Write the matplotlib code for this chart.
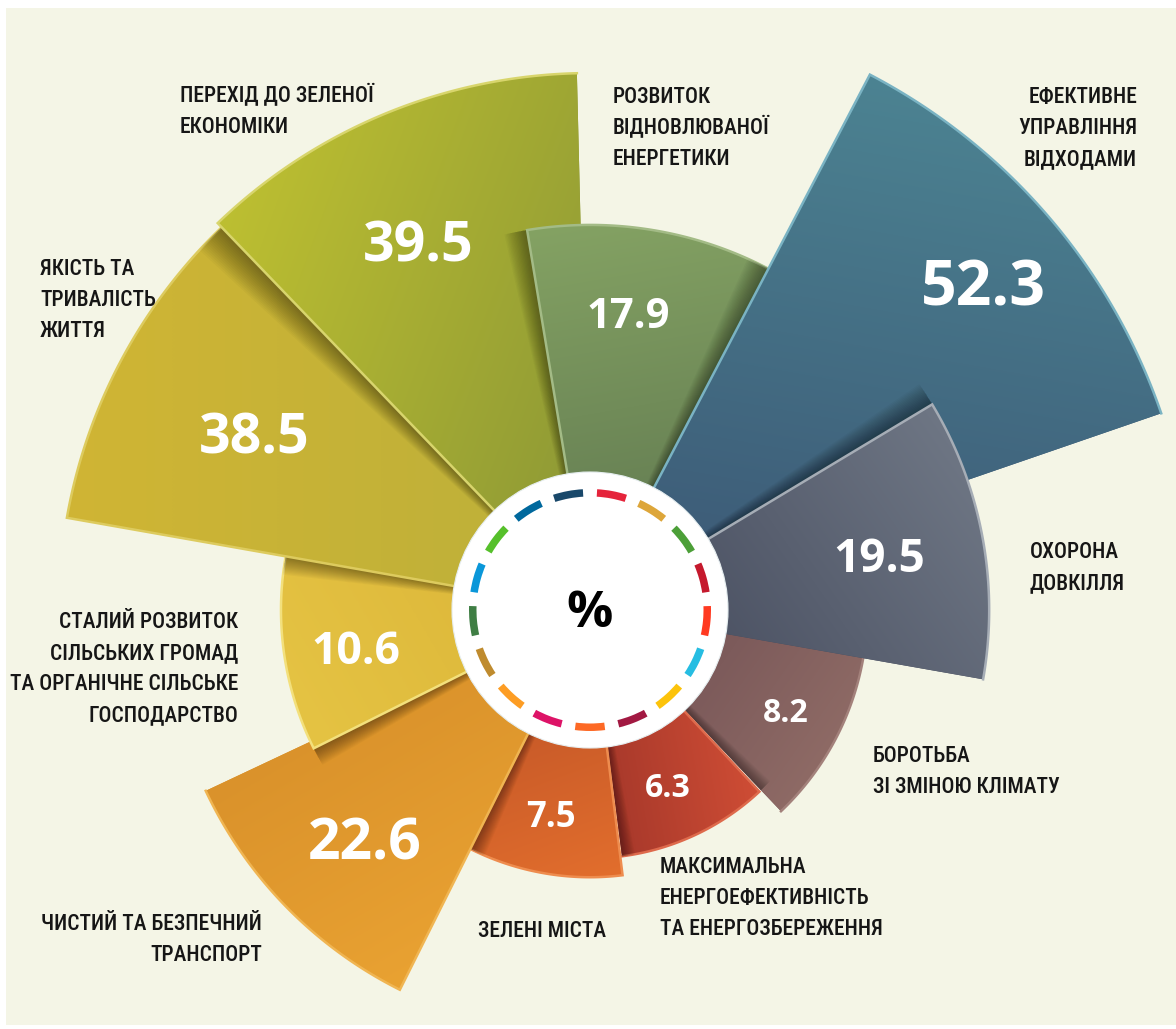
import numpy as np
import matplotlib
matplotlib.use("Agg")
import matplotlib.pyplot as plt
from matplotlib import font_manager as fm
from matplotlib.patches import Circle, Wedge, Rectangle
from matplotlib.image import AxesImage
from matplotlib.path import Path
from matplotlib.colors import to_rgb

# ---------------- data ----------------
categories = [
    "БОРОТЬБА\nЗІ ЗМІНОЮ КЛІМАТУ",
    "МАКСИМАЛЬНА\nЕНЕРГОЕФЕКТИВНІСТЬ\nТА ЕНЕРГОЗБЕРЕЖЕННЯ",
    "ЗЕЛЕНІ МІСТА",
    "ЧИСТИЙ ТА БЕЗПЕЧНИЙ\nТРАНСПОРТ",
    "СТАЛИЙ РОЗВИТОК\nСІЛЬСЬКИХ ГРОМАД\nТА ОРГАНІЧНЕ СІЛЬСЬКЕ\nГОСПОДАРСТВО",
    "ЯКІСТЬ ТА\nТРИВАЛІСТЬ\nЖИТТЯ",
    "ПЕРЕХІД ДО ЗЕЛЕНОЇ\nЕКОНОМІКИ",
    "РОЗВИТОК\nВІДНОВЛЮВАНОЇ\nЕНЕРГЕТИКИ",
    "ЕФЕКТИВНЕ\nУПРАВЛІННЯ\nВІДХОДАМИ",
    "ОХОРОНА\nДОВКІЛЛЯ",
]
values = [8.2, 6.3, 7.5, 22.6, 10.6, 38.5, 39.5, 17.9, 52.3, 19.5]
center_symbol = "%"

# ---------------- layout ----------------
# angular extent of each sector in degrees (clockwise edge -> counter-clockwise edge);
# sectors are listed in stacking order, each one overlapping the previous one
sector_from = [313.5, 277.4, 243.0, 205.2, 169.5, 133.5, 91.4, 62.0, 19.0, -10.0]
sector_to = [351.0, 313.0, 277.0, 243.4, 206.6, 170.0, 133.9, 99.4, 62.4, 31.0]

# value labels: (x, baseline) in pixels from the top-left corner, font size in pt
value_pos = [(786, 722), (668, 797), (551, 827), (365, 859), (356, 664),
             (254, 453), (418, 262), (628, 328), (983, 305), (879, 572)]
value_size = [23, 23, 25, 41, 32, 40, 40, 30, 45, 33]

# category labels: (x, first baseline) in pixels, alignment
label_pos = [(873, 762, "left"), (660, 873, "left"), (478, 937, "left"),
             (262, 930, "right"), (238, 628, "right"), (40, 275, "left"),
             (180, 102, "left"), (613, 103, "left"), (1137, 103, "right"),
             (1030, 558, "left")]
label_step = 31
label_size = 15.5

# ---------------- style ----------------
shade_dark = ["#6C4C51", "#A8392B", "#BB5026", "#DA922B", "#DBB538",
              "#BCB03A", "#8A9636", "#5E764F", "#3B5674", "#444A5C"]
shade_light = ["#8E6A65", "#CF4D35", "#E26E2D", "#E9A232", "#E5C343",
               "#D0B534", "#BDBF31", "#84A263", "#4C8392", "#6E7684"]
shade_dir = [-35, 10, -70, -60, -150, 180, 160, 100, 80, 35]
edge_colors = ["#A3817B", "#DE6A4C", "#EE8C4E", "#F0B552", "#F3E07C",
               "#DDCB5E", "#D8D56C", "#A3BB86", "#7AB3C3", "#A6ADB6"]
goal_colors = ["#E5243B", "#DDA63A", "#4C9F38", "#C5192D", "#FF3A21", "#26BDE2",
               "#FCC30B", "#A21942", "#FD6925", "#DD1367", "#FD9D24", "#BF8B2E",
               "#3F7E44", "#0A97D9", "#56C02B", "#00689D", "#19486A"]
panel_color = "#F4F5E6"
text_color = "#161616"


def pick_label_font():
    entries = fm.fontManager.ttflist
    names = {f.name for f in entries}
    for fam in ["Roboto Condensed", "Noto Sans Condensed", "Open Sans Condensed",
                "Liberation Sans Narrow"]:
        if fam in names:
            return {"family": fam}
    for fam in ["Noto Sans", "Open Sans", "Roboto"]:
        if any(f.name == fam and "condensed" in str(f.stretch) for f in entries):
            return {"family": fam, "stretch": "condensed"}
    return {"family": "DejaVu Sans", "stretch": "condensed"}


names_available = {f.name for f in fm.fontManager.ttflist}
value_family = "Open Sans" if "Open Sans" in names_available else "DejaVu Sans"
label_font = pick_label_font()

W, H, DPI = 1176, 1029, 100
fig = plt.figure(figsize=(W / DPI, H / DPI), dpi=DPI, facecolor="white")
fig.add_artist(Rectangle((6 / W, 4 / H), (W - 6) / W, 1017 / H,
                         transform=fig.transFigure, facecolor=panel_color,
                         edgecolor="none", zorder=-10))

# polar axes centred on the hub; radius grows as a power of the value
CX, CY, R = 590, H - 610, 640
ax = fig.add_axes([(CX - R) / W, (CY - R) / H, 2 * R / W, 2 * R / H], projection="polar")
ax.set_axis_off()
P = 0.42


def r_forward(r):
    return np.power(np.clip(r, 0, None), P)


def r_inverse(r):
    return np.power(np.clip(r, 0, None), 1.0 / P)


ax.set_rscale("function", functions=(r_forward, r_inverse))
ax.set_rlim(0, 60)

n = len(values)
bars = []
for i, v in enumerate(values):
    t0, t1 = np.deg2rad(sector_from[i]), np.deg2rad(sector_to[i])
    z = 10 + 10 * i
    bar = ax.bar((t0 + t1) / 2, v, width=t1 - t0, bottom=0, color=shade_dark[i],
                 linewidth=0, zorder=z)[0]
    bars.append(bar)
ax.set_rlim(0, 60)

# outline of every sector in axes coordinates (used for clipping)
to_axes = ax.transData + ax.transAxes.inverted()
outlines = []
for i, v in enumerate(values):
    t0, t1 = np.deg2rad(sector_from[i]), np.deg2rad(sector_to[i])
    th = np.linspace(t0, t1, 120)
    pts = np.column_stack([np.r_[th, t0, t0], np.r_[np.full(th.size, v), 0.0, v]])
    outlines.append(Path(to_axes.transform(pts), closed=True))

# gradient fill of every sector
for i, v in enumerate(values):
    t0, t1 = np.deg2rad(sector_from[i]), np.deg2rad(sector_to[i])
    z = 10 + 10 * i
    xy = outlines[i].vertices[:-1]
    x0, y0 = xy.min(axis=0)
    x1, y1 = xy.max(axis=0)
    nx = max(int((x1 - x0) * 2 * R / 2), 4)
    ny = max(int((y1 - y0) * 2 * R / 2), 4)
    gx, gy = np.meshgrid(np.linspace(x0, x1, nx), np.linspace(y0, y1, ny))
    ang = np.deg2rad(shade_dir[i])
    u = np.array([np.cos(ang), np.sin(ang)])
    proj = xy @ u
    tt = np.clip((gx * u[0] + gy * u[1] - proj.min()) / (proj.max() - proj.min()), 0, 1)
    c0 = np.array(to_rgb(shade_dark[i]))
    c1 = np.array(to_rgb(shade_light[i]))
    img = c0[None, None, :] * (1 - tt[..., None]) + c1[None, None, :] * tt[..., None]
    im = AxesImage(ax, origin="lower", extent=(x0, x1, y0, y1),
                   interpolation="bilinear", transform=ax.transAxes, zorder=z + 1)
    im.set_data(img)
    im.set_clip_path(outlines[i], ax.transAxes)
    ax.add_artist(im)

    # light rim along the leading edge and the outer arc
    arc = np.linspace(t1, t0, 120)
    ax.plot(np.r_[t1, arc], np.r_[0.0, np.full(arc.size, v)], color=edge_colors[i],
            linewidth=1.8, solid_joinstyle="miter", zorder=z + 2)

# soft shadow that each sector casts on the one beneath it
n_layers = 16
for i in range(1, n):
    t1 = np.deg2rad(sector_to[i])
    for k in range(n_layers):
        w = np.deg2rad(0.25 + 3.2 * k / (n_layers - 1))
        s = ax.bar(t1 + w / 2, values[i], width=w, bottom=0, color="black",
                   alpha=0.026, linewidth=0, zorder=10 + 10 * (i - 1) + 5)[0]
        s.set_clip_path(outlines[i - 1], ax.transAxes)
ax.set_rlim(0, 60)

# central hub with the ring of goal colours
hub = Circle((0.5, 0.5), 138 / (2 * R), transform=ax.transAxes, facecolor="white",
             edgecolor="#E6EEF0", linewidth=0.8, zorder=300, clip_on=False)
ax.add_artist(hub)
step = 360.0 / len(goal_colors)
for k, c in enumerate(goal_colors):
    mid = 90 - (step / 2 + k * step)
    ax.add_artist(Wedge((0.5, 0.5), 121 / (2 * R), mid - 7.2, mid + 7.2,
                        width=7.5 / (2 * R), transform=ax.transAxes,
                        facecolor=c, edgecolor="none", zorder=301, clip_on=False))

fig.text(590 / W, 1 - 627 / H, center_symbol, ha="center", va="baseline",
         fontsize=37, fontweight="bold", family=value_family, color="black", zorder=20)

# value labels
for i, v in enumerate(values):
    x, y = value_pos[i]
    fig.text(x / W, 1 - y / H, f"{v:.1f}", ha="center", va="baseline",
             fontsize=value_size[i], fontweight="bold", family=value_family,
             color="white", zorder=20)

# category labels
for i, name in enumerate(categories):
    x, y, align = label_pos[i]
    for j, line in enumerate(name.split("\n")):
        fig.text(x / W, 1 - (y + j * label_step) / H, line, ha=align, va="baseline",
                 fontsize=label_size, fontweight=500, color=text_color, zorder=20,
                 **label_font)

fig.savefig("out.png", dpi=DPI, facecolor="white")
